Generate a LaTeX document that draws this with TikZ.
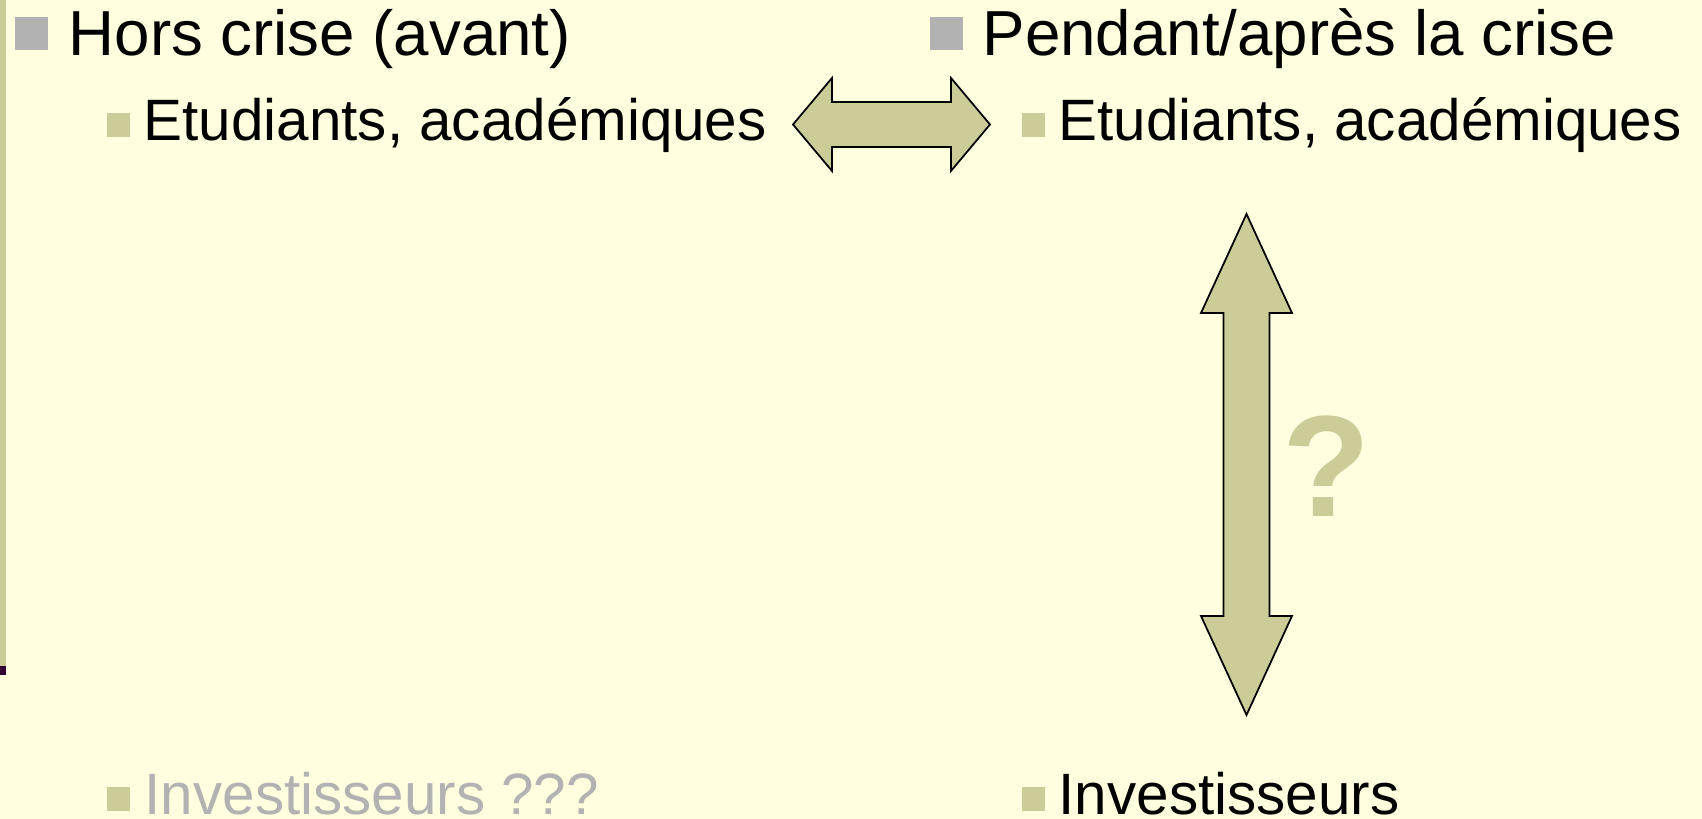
\documentclass[tikz,border=0pt]{standalone}
\usepackage{fontspec}
\setmainfont{Liberation Sans}
\usetikzlibrary{positioning,calc}
\definecolor{slidebg}{RGB}{255,255,224}
\definecolor{olive}{RGB}{204,204,153}
\definecolor{bulgray}{RGB}{178,178,178}
\definecolor{barpurple}{RGB}{51,0,51}
\tikzstyle{level one}=[anchor=base west,inner sep=0pt,font=\fontsize{18.1}{20}\selectfont]
\tikzstyle{level two}=[anchor=base west,inner sep=0pt,font=\fontsize{16.6}{19}\selectfont]
\tikzstyle{gray bullet}=[fill=bulgray,inner sep=0pt,minimum size=0.33cm,anchor=south east]
\tikzstyle{olive bullet}=[fill=olive,inner sep=0pt,minimum width=0.23cm,minimum height=0.24cm,anchor=south east]
\tikzstyle{block arrow}=[fill=olive,draw=black,line width=0.5pt,line join=miter]

\begin{document}
\begin{tikzpicture}[x=0.01cm,y=-0.01cm]
  \fill[slidebg] (0,0) rectangle (1702,819);
  \useasboundingbox (0,0) rectangle (1702,819);
  \fill[olive] (0,0) rectangle (6,666);
  \fill[barpurple] (0,666) rectangle (6,675);

  \node[level one] (hors) at (68,56) {Hors crise (avant)};
  \node[level one] (pendant) at (982,56) {Pendant/après la crise};
  \node[level two] (etud1) at (143,141) {Etudiants, académiques};
  \node[level two] (etud2) at (1058,141) {Etudiants, académiques};
  \node[level two, text=bulgray] (invest1) at (144,815) {Investisseurs ???};
  \node[level two] (invest2) at (1058,815) {Investisseurs};

  \node[gray bullet] (bhors) at ([shift={(-19,-5)}]hors.base west) {};
  \node[gray bullet] (bpendant) at ([shift={(-18,-5)}]pendant.base west) {};
  \node[olive bullet] (betud1) at ([shift={(-12,-3)}]etud1.base west) {};
  \node[olive bullet] (betud2) at ([shift={(-12,-3)}]etud2.base west) {};
  \node[olive bullet] (binvest1) at ([shift={(-13,-3)}]invest1.base west) {};
  \node[olive bullet] (binvest2) at ([shift={(-12,-3)}]invest2.base west) {};

  % arrows between the columns
  \coordinate (hmid) at (891.5,124.5);
  \coordinate (vmid) at (1246.5,464.5);
  \draw[block arrow,shift={(hmid)}] (-98.5,0) -- (-59.5,-46.5) -- (-59.5,-22.5) -- (59.5,-22.5)
    -- (59.5,-46.5) -- (98.5,0) -- (59.5,46.5) -- (59.5,22.5) -- (-59.5,22.5) -- (-59.5,46.5) -- cycle;
  \draw[block arrow,shift={(vmid)}] (0,-250.5) -- (45.5,-151.5) -- (23,-151.5) -- (23,151.5)
    -- (45.5,151.5) -- (0,250.5) -- (-45.5,151.5) -- (-23,151.5) -- (-23,-151.5) -- (-45.5,-151.5) -- cycle;
  \node[anchor=base west,inner sep=0pt,text=olive,font=\bfseries\fontsize{41}{41}\selectfont] (quest) at (1282,517) {?};
\end{tikzpicture}
\end{document}
